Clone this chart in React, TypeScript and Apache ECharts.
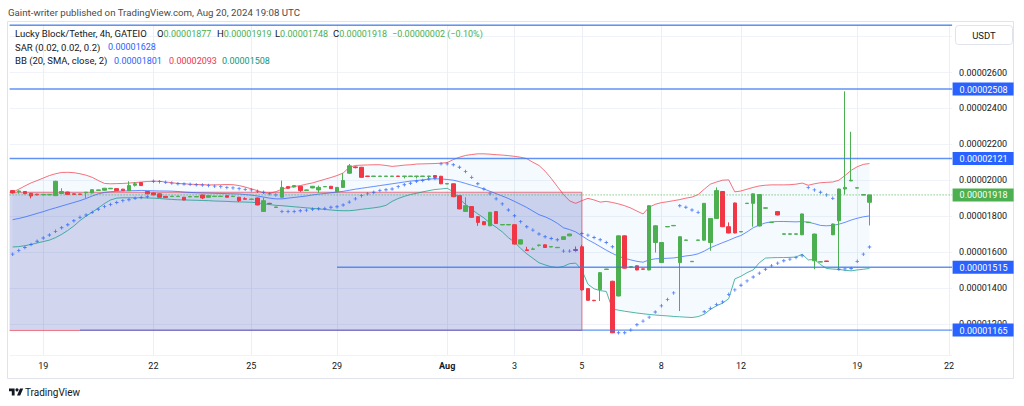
import React, { useEffect, useRef } from 'react';
import * as echarts from 'echarts';

// Prices are stored in units of 1e-8 USDT
const SCALE = 1e-8;
const FONT = 'Roboto, "Noto Sans", sans-serif';

// [open, close, low, high]
const CANDLES: number[][] = [
  [1942,1929,1926,1945],[1936,1940,1925,1943],[1937,1925,1922,1939],[1927,1912,1899,1929],[1922,1918,1916,1924],
  [1918,1921,1917,1922],[1918,1921,1917,1922],[1914,1994,1912,1997],[1926,1937,1924,1955],[1934,1920,1918,1936],
  [1924,1921,1920,1925],[1923,1921,1920,1924],[1930,1933,1901,1935],[1929,1947,1927,1949],[1943,1946,1942,1947],
  [1944,1955,1942,1957],[1952,1955,1951,1956],[1953,1942,1940,1955],[1950,1942,1941,1952],[1942,1970,1940,1994],
  [1972,1980,1965,1990],[1987,1970,1968,1990],[1937,1924,1922,1940],[1929,1918,1916,1931],[1924,1905,1903,1926],
  [1910,1903,1901,1912],[1909,1911,1908,1912],[1909,1911,1908,1912],[1905,1890,1888,1907],[1907,1909,1906,1910],
  [1907,1909,1906,1910],[1918,1901,1895,1920],[1905,1914,1903,1916],[1909,1911,1908,1912],[1909,1911,1908,1912],
  [1914,1905,1904,1915],[1909,1911,1908,1912],[1905,1886,1878,1907],[1897,1894,1893,1905],[1893,1895,1892,1896],
  [1901,1862,1860,1903],[1826,1886,1824,1903],[1871,1869,1866,1874],[1848,1851,1846,1853],[1905,1960,1903,1998],
  [1964,1955,1953,1966],[1962,1970,1960,1972],[1966,1942,1935,1968],[1943,1946,1942,1947],[1957,1966,1955,1968],
  [1946,1960,1930,1970],[1963,1965,1962,1966],[1966,1953,1951,1968],[1936,1960,1934,1962],[1960,1998,1958,2039],
  [2039,2080,2036,2090],[2074,2070,2066,2078],[2072,2016,2014,2074],[2023,2021,2020,2024],[2021,2023,2020,2024],
  [2021,2023,2020,2024],[2021,2023,2020,2024],[2021,2023,2020,2024],[2023,2021,2020,2024],[2021,2023,2010,2024],
  [2021,2023,2020,2024],[2021,2023,2010,2024],[2021,2023,2020,2024],[2021,2023,2010,2024],[2026,2016,2014,2028],
  [2022,1980,1978,2024],[1979,1981,1978,1982],[1980,1908,1906,1982],[1914,1840,1838,1916],[1826,1858,1824,1905],
  [1853,1793,1791,1855],[1797,1765,1746,1799],[1769,1752,1750,1771],[1746,1821,1744,1823],[1825,1759,1757,1827],
  [1751,1753,1750,1754],[1751,1753,1750,1754],[1752,1644,1642,1754],[1644,1668,1642,1670],[1612,1608,1606,1629],
  [1615,1617,1614,1625],[1637,1639,1630,1641],[1640,1625,1623,1642],[1628,1630,1627,1631],[1624,1626,1623,1627],
  [1670,1685,1668,1687],[1690,1700,1688,1702],[1614,1609,1607,1631],[1629,1389,1385,1640],[1396,1331,1328,1398],
  [1331,1329,1326,1333],[1390,1485,1327,1488],[1503,1505,1502,1506],[1437,1150,1148,1440],[1355,1690,1353,1692],
  [1690,1510,1508,1692],[1516,1518,1515,1519],[1523,1500,1498,1525],[1506,1504,1503,1507],[1500,1858,1498,1860],
  [1653,1746,1597,1748],[1541,1653,1539,1655],[1740,1742,1739,1743],[1746,1748,1745,1749],[1541,1685,1271,1687],
  [1665,1667,1664,1668],[1546,1548,1545,1549],[1665,1667,1664,1668],[1666,1871,1664,1873],[1653,1787,1607,1789],
  [1787,1942,1785,1960],[1937,1741,1739,1939],[1741,1706,1704,1765],[1873,1706,1704,1875],[1712,1714,1711,1715],
  [1870,1872,1869,1873],[1871,1924,1741,1926],[1745,1920,1743,1922],[1844,1846,1843,1847],[1764,1766,1763,1767],
  [1825,1806,1804,1827],[1699,1701,1698,1702],[1699,1701,1698,1702],[1699,1701,1698,1702],[1696,1812,1694,1814],
  [1764,1766,1763,1767],[1551,1700,1504,1702],[1544,1546,1543,1547],[1550,1547,1546,1551],[1696,1756,1694,1758],
  [1774,1951,1504,1953],[1951,1960,1920,2495],[1996,2000,1995,2270],[1956,1958,1955,1959],[1917,1920,1916,1921],
  [1877,1918,1748,1919],
];

const BB_UPPER = [
  1933,1950,1968,1985,1998,2012,2026,2036,2043,2044,2042,2036,2028,2016,1998,1982,1980,1981,1982,1984,
  1987,1990,1993,1994,1994,1990,1986,1982,1980,1978,1976,1975,1974,1974,1975,1976,1975,1970,1962,1952,
  1942,1930,1928,1936,1950,1960,1965,1970,1978,1985,1995,2005,2015,2026,2040,2072,2082,2084,2085,2086,
  2086,2082,2077,2080,2084,2086,2090,2091,2092,2093,2095,2098,2115,2128,2138,2143,2147,2147,2145,2142,
  2140,2137,2133,2128,2120,2100,2082,2050,2010,1965,1920,1885,1871,1886,1899,1890,1878,1882,1876,1868,
  1858,1845,1828,1812,1850,1866,1875,1880,1886,1892,1900,1906,1920,1950,1978,1990,2000,2002,1935,1940,
  1950,1960,1968,1972,1974,1974,1974,1975,1978,1984,1972,1980,1986,1988,1990,2000,2026,2055,2075,2088,
  2093,
];

const BB_BASIS = [
  1780,1787,1795,1805,1815,1825,1836,1846,1856,1866,1876,1886,1898,1912,1924,1932,1936,1938,1940,1941,
  1942,1943,1942,1941,1940,1940,1939,1937,1934,1932,1930,1929,1928,1927,1926,1925,1924,1923,1920,1917,
  1912,1906,1900,1896,1896,1900,1904,1908,1912,1918,1922,1926,1930,1934,1938,1944,1950,1955,1960,1965,
  1970,1975,1980,1985,1990,1995,1998,2002,2006,2008,2007,2004,2000,1992,1982,1972,1962,1951,1938,1925,
  1912,1898,1882,1865,1848,1828,1808,1796,1780,1760,1735,1725,1712,1690,1668,1650,1630,1610,1592,1576,
  1565,1556,1548,1543,1556,1562,1564,1565,1567,1572,1578,1582,1590,1605,1624,1638,1652,1665,1680,1692,
  1712,1735,1750,1762,1768,1770,1770,1769,1768,1770,1766,1758,1748,1746,1748,1755,1765,1778,1788,1796,
  1801,
];

const BB_LOWER = [
  1628,1630,1635,1642,1650,1658,1666,1680,1698,1720,1745,1775,1800,1822,1845,1870,1890,1900,1902,1902,
  1902,1902,1901,1900,1898,1895,1893,1891,1890,1889,1888,1887,1886,1884,1883,1882,1880,1879,1878,1877,
  1874,1868,1864,1860,1858,1855,1852,1849,1846,1843,1840,1837,1834,1831,1830,1830,1833,1838,1842,1846,
  1851,1860,1882,1898,1910,1920,1927,1935,1942,1948,1951,1955,1935,1895,1865,1838,1812,1790,1760,1738,
  1712,1680,1655,1620,1590,1565,1540,1528,1518,1513,1520,1535,1538,1500,1420,1395,1385,1380,1282,1276,
  1270,1265,1260,1256,1252,1249,1246,1244,1241,1239,1237,1235,1240,1253,1280,1300,1315,1340,1450,1465,
  1485,1500,1540,1566,1568,1569,1569,1570,1572,1588,1556,1558,1530,1508,1505,1503,1498,1495,1500,1504,
  1508,
];

const SAR = [
  1588,1608,1625,1642,1660,1678,1695,1715,1735,1752,1774,1793,1806,1821,1838,1853,1864,1876,1886,1891,
  1899,1904,1908,1994,1992,1988,1984,1980,1979,1977,1975,1973,1970,1967,1964,1960,1957,1953,1949,1946,
  1938,1933,1924,1918,1825,1826,1826,1830,1833,1838,1841,1843,1849,1852,1862,1878,1896,1914,1924,1933,
  1942,1947,1951,1964,1975,1983,1994,1998,2007,2010,2091,2091,2086,2072,2048,2016,1980,1951,1924,1896,
  1868,1834,1802,1769,1741,1722,1700,1685,1675,1668,1605,1605,1609,1703,1694,1681,1668,1653,1629,1150,
  1150,1165,1195,1215,1237,1266,1300,1335,1372,1858,1849,1834,1821,1267,1286,1308,1322,1364,1389,1415,
  1439,1461,1482,1504,1523,1538,1551,1560,1569,1579,1960,1946,1933,1918,1899,1504,1506,1508,1548,1588,
  1628,
];

const X_SLOTS = 154;
const X_LABEL_IDX = [5, 23, 39, 53, 71, 82, 93, 106, 119, 138, 153];
const X_LABEL_TXT = ['19', '22', '25', '29', 'Aug', '3', '5', '8', '12', '19', '22'];

// Horizontal drawn levels: price, first bar index (-1 = whole width), label shown
const LEVEL_PRICES = [2863, 2508, 2121, 1515, 1165];
const LEVEL_STARTS = [-1, -1, -1, 53, 11];
const LEVEL_TAGS = [0, 1, 1, 1, 1];

const RECT_END = 93;
const RECT_TOP = 1933;
const RECT_BOTTOM = 1163;

const Y_MIN = 1026.2;
const Y_MAX = 2870.2;

const GREEN = '#4caf50';
const RED = '#f23645';
const BLUE = '#2962ff';
const TEAL = '#089981';
const DARK = '#131722';

const fmt = (u: number) => (u * SCALE).toFixed(8);

echarts.graphic.registerShape(
  'tvLogo',
  echarts.graphic.extendPath('M14 22H7V11H0V4h14v18zM28 22h-8l7.5-18h8L28 22z', {})
);

export default function App() {
  const ref = useRef<HTMLDivElement>(null);

  useEffect(() => {
    if (!ref.current) return;
    const chart = echarts.init(ref.current, undefined, { renderer: 'svg' });

    const cats = Array.from({ length: X_SLOTS }, (_, i) => String(i));
    const labelMap = new Map<number, string>();
    X_LABEL_IDX.forEach((idx, k) => labelMap.set(idx, X_LABEL_TXT[k]));

    const last = CANDLES[CANDLES.length - 1];
    const prev = CANDLES[CANDLES.length - 2];
    const chg = last[1] - prev[1];
    const chgPct = (chg / prev[1]) * 100;
    const minus = '\u2212';
    const chgTxt = `${chg < 0 ? minus : ''}${fmt(Math.abs(chg))} (${chgPct < 0 ? minus : ''}${Math.abs(chgPct).toFixed(2)}%)`;

    // level rows: [startIndex, price, full(1/0), isLastPrice(1/0), showTag(1/0)]
    const levelRows = LEVEL_PRICES.map((p, k) => [
      Math.max(LEVEL_STARTS[k], 0),
      p * SCALE,
      LEVEL_STARTS[k] < 0 ? 1 : 0,
      0,
      LEVEL_TAGS[k],
    ]);
    levelRows.push([0, last[1] * SCALE, 1, 1, 1]);

    const VAL = 9;
    const legendRich = {
      k: { fill: DARK, fontSize: 9.5, fontFamily: FONT },
      g: { fill: GREEN, fontSize: VAL, fontFamily: FONT },
      b: { fill: BLUE, fontSize: VAL, fontFamily: FONT },
      r: { fill: RED, fontSize: VAL, fontFamily: FONT },
      t: { fill: TEAL, fontSize: VAL, fontFamily: FONT },
    };
    const txt = (x: number, y: number, text: string, extra: any = {}) => ({
      type: 'text',
      x,
      y,
      z: 50,
      style: {
        text,
        fill: DARK,
        fontSize: 9.5,
        fontFamily: FONT,
        verticalAlign: 'middle',
        align: 'left',
        rich: legendRich,
        ...extra,
      },
    });

    const option: any = {
      animation: false,
      backgroundColor: '#ffffff',
      grid: { left: 9.6, right: 71.9, top: 24, bottom: 51 },
      xAxis: {
        type: 'category',
        data: cats,
        boundaryGap: true,
        axisLine: { show: false },
        axisTick: { show: false },
        splitLine: { show: false },
        axisLabel: {
          interval: (idx: number) => labelMap.has(idx),
          formatter: (_v: string, idx: number) => {
            const s = labelMap.get(idx) || '';
            return s === 'Aug' ? '{b|Aug}' : s;
          },
          color: DARK,
          fontSize: 9,
          fontFamily: FONT,
          margin: 6,
          rich: { b: { fontWeight: 'bold', fontSize: 9, fontFamily: FONT, color: DARK } },
        },
      },
      yAxis: {
        type: 'value',
        position: 'right',
        min: Y_MIN * SCALE,
        max: Y_MAX * SCALE,
        splitNumber: 9,
        axisLine: { show: false },
        axisTick: { show: false },
        splitLine: { show: true, lineStyle: { color: '#f0f3fa', width: 1 } },
        axisLabel: {
          margin: 7,
          color: DARK,
          fontSize: 9,
          fontFamily: FONT,
          formatter: (v: number) => {
            const u = Math.round(v / SCALE);
            return u % 200 === 0 && u >= 1200 && u <= 2600 ? fmt(u) : '';
          },
        },
      },
      series: [
        {
          name: 'bbBase',
          type: 'line',
          stack: 'bb',
          data: BB_LOWER.map((v) => v * SCALE),
          symbol: 'none',
          lineStyle: { opacity: 0 },
          silent: true,
          z: 1,
          markLine: {
            silent: true,
            z: 0,
            symbol: ['none', 'none'],
            label: { show: false },
            lineStyle: { color: '#eceff5', width: 1, type: 'solid' },
            data: X_LABEL_IDX.map((i) => ({ xAxis: i })),
          },
        },
        {
          name: 'bbFill',
          type: 'line',
          stack: 'bb',
          data: BB_UPPER.map((v, i) => (v - BB_LOWER[i]) * SCALE),
          symbol: 'none',
          lineStyle: { opacity: 0 },
          areaStyle: { color: 'rgba(33,150,243,0.06)' },
          silent: true,
          z: 1,
        },
        {
          name: 'rect',
          type: 'custom',
          silent: true,
          z: 2,
          clip: true,
          data: [[RECT_END, RECT_TOP * SCALE, RECT_BOTTOM * SCALE]],
          encode: { x: 0, y: [1, 2] },
          renderItem: (params: any, api: any) => {
            const cs = params.coordSys;
            const t = api.coord([api.value(0), api.value(1)]);
            const b = api.coord([api.value(0), api.value(2)]);
            const left = cs.x;
            return {
              type: 'group',
              children: [
                {
                  type: 'rect',
                  shape: { x: left, y: t[1], width: t[0] - left, height: b[1] - t[1] },
                  style: { fill: 'rgba(63,81,181,0.24)' },
                },
                {
                  type: 'polyline',
                  shape: { points: [[left, t[1]], [t[0], t[1]], [t[0], b[1]], [left, b[1]]] },
                  style: { fill: 'none', stroke: 'rgba(242,54,69,0.65)', lineWidth: 1 },
                },
              ],
            };
          },
        },
        {
          name: 'BB upper',
          type: 'line',
          data: BB_UPPER.map((v) => v * SCALE),
          symbol: 'none',
          lineStyle: { color: RED, width: 1, opacity: 0.7 },
          silent: true,
          z: 3,
        },
        {
          name: 'BB basis',
          type: 'line',
          data: BB_BASIS.map((v) => v * SCALE),
          symbol: 'none',
          lineStyle: { color: BLUE, width: 1, opacity: 0.7 },
          silent: true,
          z: 3,
        },
        {
          name: 'BB lower',
          type: 'line',
          data: BB_LOWER.map((v) => v * SCALE),
          symbol: 'none',
          lineStyle: { color: TEAL, width: 1, opacity: 0.7 },
          silent: true,
          z: 3,
        },
        {
          name: 'Candles',
          type: 'candlestick',
          data: CANDLES.map((c) => c.map((v) => v * SCALE)),
          barWidth: 4,
          itemStyle: {
            color: GREEN,
            color0: RED,
            borderColor: GREEN,
            borderColor0: RED,
            borderWidth: 1,
          },
          z: 5,
        },
        {
          name: 'SAR',
          type: 'scatter',
          data: SAR.map((v, i) => [i, v * SCALE]),
          symbol: 'path://M1.5,0H2.5V1.5H4V2.5H2.5V4H1.5V2.5H0V1.5H1.5Z',
          symbolSize: 3.5,
          itemStyle: { color: BLUE },
          silent: true,
          z: 6,
        },
        {
          name: 'levels',
          type: 'custom',
          silent: true,
          z: 8,
          clip: false,
          data: levelRows,
          encode: { x: 0, y: 1 },
          renderItem: (params: any, api: any) => {
            const cs = params.coordSys;
            const price = api.value(1);
            const full = api.value(2) === 1;
            const isLast = api.value(3) === 1;
            const showTag = api.value(4) === 1;
            const pt = api.coord([api.value(0), price]);
            const y = pt[1];
            const x0 = full ? cs.x : pt[0];
            const x1 = cs.x + cs.width;
            const color = isLast ? GREEN : BLUE;
            const children: any[] = [
              {
                type: 'line',
                shape: { x1: x0, y1: y, x2: x1, y2: y },
                style: {
                  stroke: isLast ? GREEN : '#3a78f2',
                  lineWidth: isLast ? 1 : 1.4,
                  opacity: isLast ? 1 : 0.8,
                  lineDash: isLast ? [1, 2] : null,
                },
              },
            ];
            if (showTag) {
              children.push(
                {
                  type: 'rect',
                  shape: { x: x1 + 0.5, y: y - 6.5, width: 61, height: 13 },
                  style: { fill: color },
                },
                {
                  type: 'text',
                  x: x1 + 7.5,
                  y: y + 0.5,
                  style: {
                    text: fmt(Math.round(price / SCALE)),
                    fill: '#ffffff',
                    fontSize: 9,
                    fontFamily: FONT,
                    align: 'left',
                    verticalAlign: 'middle',
                  },
                }
              );
            }
            return { type: 'group', children };
          },
        },
      ],
      graphic: [
        {
          type: 'rect',
          z: 0,
          silent: true,
          shape: { x: 7.5, y: 21.5, width: 1006, height: 357 },
          style: { fill: 'none', stroke: '#e0e3eb', lineWidth: 1 },
        },
        txt(8, 12.5, 'Gaint-writer published on TradingView.com, Aug 20, 2024 19:08 UTC', { fill: '#4a4a4a', fontSize: 9.7 }),
        txt(15, 33.5, 'Lucky Block/Tether, 4h, GATEIO'),
        txt(157, 33.5, `{k|O}{g|${fmt(last[0])}}`),
        txt(217, 33.5, `{k|H}{g|${fmt(last[3])}}`),
        txt(275, 33.5, `{k|L}{g|${fmt(last[2])}}`),
        txt(333, 33.5, `{k|C}{g|${fmt(last[1])}}`),
        txt(392, 33.5, `{g|${chgTxt}}`),
        txt(15, 47, 'SAR (0.02, 0.02, 0.2)'),
        txt(108, 47, `{b|${fmt(SAR[SAR.length - 1])}}`),
        txt(15, 60.5, 'BB (20, SMA, close, 2)'),
        txt(114, 60.5, `{b|${fmt(BB_BASIS[BB_BASIS.length - 1])}}`),
        txt(169, 60.5, `{r|${fmt(BB_UPPER[BB_UPPER.length - 1])}}`),
        txt(222, 60.5, `{t|${fmt(BB_LOWER[BB_LOWER.length - 1])}}`),
        {
          type: 'rect',
          z: 100,
          silent: true,
          shape: { x: 955.5, y: 25.5, width: 57, height: 19, r: 3 },
          style: { fill: '#ffffff', stroke: '#e0e3eb', lineWidth: 1 },
        },
        {
          type: 'text',
          z: 101,
          x: 984,
          y: 35,
          style: {
            text: 'USDT',
            fill: DARK,
            fontSize: 9.5,
            fontFamily: FONT,
            align: 'center',
            verticalAlign: 'middle',
          },
        },
        {
          type: 'tvLogo',
          x: 9,
          y: 386.8,
          scaleX: 0.4,
          scaleY: 0.4,
          z: 50,
          style: { fill: DARK },
        },
        {
          type: 'circle',
          z: 50,
          shape: { cx: 9 + 20 * 0.4, cy: 386.8 + 7.5 * 0.4, r: 4 * 0.4 },
          style: { fill: DARK },
        },
        {
          type: 'text',
          z: 50,
          x: 25,
          y: 392,
          style: {
            text: 'TradingView',
            fill: DARK,
            fontSize: 10,
            fontFamily: FONT,
            align: 'left',
            verticalAlign: 'middle',
          },
        },
      ],
    };

    chart.setOption(option);
    return () => {
      chart.dispose();
    };
  }, []);

  return (
    <div
      ref={ref}
      style={{ position: 'absolute', left: 0, top: 0, width: 1024, height: 406, background: '#fff' }}
    />
  );
}
